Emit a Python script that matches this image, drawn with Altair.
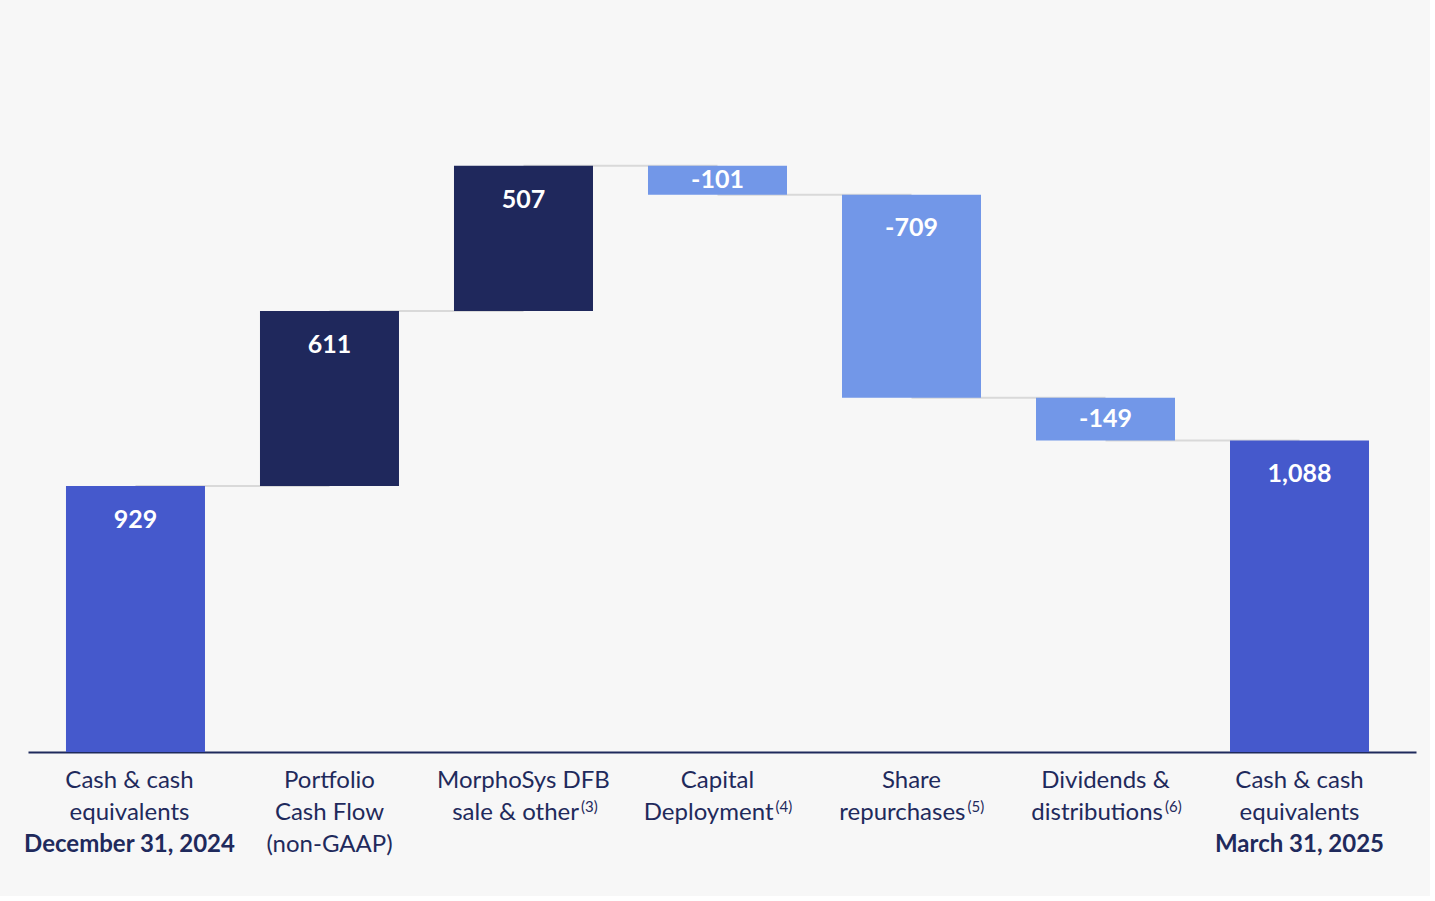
import altair as alt
import pandas as pd

# ---- data ----
keys = ["start", "pcf", "morpho", "capdep", "share", "div", "end"]
values = [929, 611, 507, -101, -709, -149, 1088]
kinds = ["total", "increase", "increase", "decrease", "decrease", "decrease", "total"]
value_labels = ["929", "611", "507", "-101", "-709", "-149", "1,088"]

label_lines = [
    ["Cash & cash", "equivalents"],
    ["Portfolio", "Cash Flow", "(non-GAAP)"],
    ["MorphoSys DFB"],
    ["Capital"],
    ["Share"],
    ["Dividends &"],
    ["Cash & cash", "equivalents"],
]
# horizontal nudge of each category's label block (px)
label_shift = [-6, 0, 0, 0, 0, 0, 0]
# second lines that carry a footnote superscript: key -> (text, note, approx text width px)
note_lines = {
    "morpho": ("sale & other", "(3)", 131),
    "capdep": ("Deployment", "(4)", 132),
    "share": ("repurchases", "(5)", 128),
    "div": ("distributions", "(6)", 135),
}
bold_lines = {"start": "December 31, 2024", "end": "March 31, 2025"}

colors = {"total": "#4559cc", "increase": "#1f285c", "decrease": "#7297e8"}
navy = "#1f2a5c"

# ---- build tables ----
rows = []
running = 0
for k, v, kind, lab in zip(keys, values, kinds, value_labels):
    if kind == "total":
        s, e = 0, v
    else:
        s, e = running, running + v
    running = e
    top = max(s, e)
    h = abs(e - s)
    rows.append(dict(key=k, start=s, end=e, kind=kind, label=lab,
                     ty=top - min(118, h / 2)))
bars = pd.DataFrame(rows)

conn = pd.DataFrame([
    dict(key=keys[i], key2=keys[i + 1], level=rows[i]["end"]) for i in range(len(keys) - 1)
])

lab_rows = []
for k, lines, sh in zip(keys, label_lines, label_shift):
    for i, t in enumerate(lines):
        lab_rows.append(dict(key=k, text=t, line=i, bold=False, shift=sh))
    if k in bold_lines:
        lab_rows.append(dict(key=k, text=bold_lines[k], line=len(lines), bold=True, shift=sh))
labels = pd.DataFrame(lab_rows)

W, H = 1388, 716
FONT = "Lato"
FS = 24
LINE0 = 745

xscale = alt.Scale(domain=keys, paddingInner=0.2835, paddingOuter=0.219, align=0.447)
yscale = alt.Scale(domain=[0, 2500])

xenc = alt.X("key:N", scale=xscale, sort=keys,
             axis=alt.Axis(labels=False, ticks=False, title=None, domainColor=navy,
                           domainWidth=2, grid=False))
yax = dict(scale=yscale, axis=None)

connectors = alt.Chart(conn).mark_rule(color="#d9d9d9", strokeWidth=2).encode(
    x=xenc,
    x2="key2:N",
    y=alt.Y("level:Q", **yax),
)

barlayer = alt.Chart(bars).mark_bar().encode(
    x=xenc,
    y=alt.Y("start:Q", **yax),
    y2="end:Q",
    color=alt.Color("kind:N", scale=alt.Scale(domain=list(colors.keys()),
                                              range=list(colors.values())), legend=None),
)

vals = alt.Chart(bars).mark_text(color="white", font=FONT, fontWeight="bold",
                                 fontSize=25, baseline="middle").encode(
    x=xenc,
    y=alt.Y("ty:Q", **yax),
    text="label:N",
)

label_layers = []
for (i, bold, sh), d in labels.groupby(["line", "bold", "shift"]):
    label_layers.append(alt.Chart(d).mark_text(
        color=navy, font=FONT, fontSize=FS, dx=sh,
        fontWeight="bold" if bold else "normal", baseline="middle",
    ).encode(
        x=xenc,
        y=alt.value(LINE0 + 32 * int(i)),
        text="text:N",
    ))

note_layers = []
SUPW = 20
for k, (txt, note, wm) in note_lines.items():
    d = pd.DataFrame([dict(key=k, text=txt, note=note)])
    off = (wm - SUPW) / 2
    note_layers.append(alt.Chart(d).mark_text(
        color=navy, font=FONT, fontSize=FS, baseline="middle", align="right", dx=off,
    ).encode(x=xenc, y=alt.value(LINE0 + 32), text="text:N"))
    note_layers.append(alt.Chart(d).mark_text(
        color=navy, font=FONT, fontSize=15, baseline="middle", align="left", dx=off + 2,
    ).encode(x=xenc, y=alt.value(LINE0 + 32 - 6), text="note:N"))

chart = alt.layer(connectors, barlayer, vals, *label_layers, *note_layers).properties(
    width=W, height=H,
    autosize=alt.AutoSizeParams(type="none"),
    padding={"left": 28, "top": 36, "right": 14, "bottom": 144},
    background="#f7f7f7",
).configure_view(stroke=None)

chart.save("out.html", embed_options={"renderer": "svg", "actions": False})
